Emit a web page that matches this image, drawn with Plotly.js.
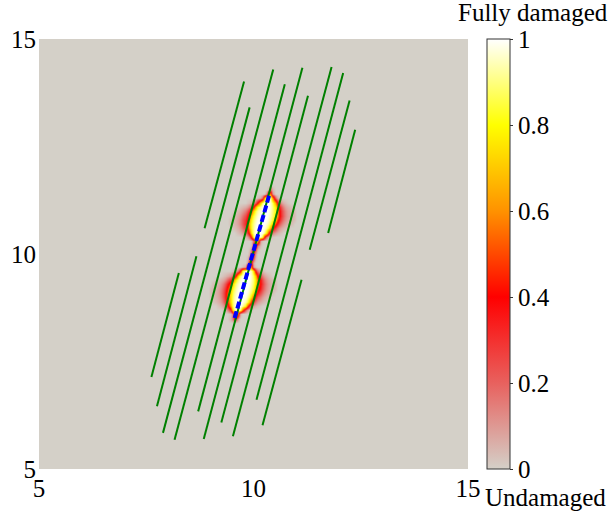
<!DOCTYPE html>
<html>
<head>
<meta charset="utf-8">
<script src="https://cdn.plot.ly/plotly-3.0.1.min.js"></script>
<style>
html, body { margin: 0; padding: 0; background: #ffffff; }
#chart { width: 612px; height: 513px; }
</style>
</head>
<body>
<div id="chart"></div>
<script>
// Natural fractures: start and end points of each green segment
const fracStartX = [8.86, 7.62, 7.75, 7.89, 8.16, 8.71, 8.84, 9.25, 9.52, 10.07, 11.31, 11.74, 10.21];
const fracStartY = [10.60, 7.14, 6.46, 5.84, 5.68, 6.34, 5.70, 6.08, 5.76, 6.61, 10.10, 10.49, 6.02];
const fracEndX   = [9.78, 8.26, 8.67, 9.91, 10.46, 10.73, 11.14, 11.27, 11.82, 12.09, 12.24, 12.37, 11.12];
const fracEndY   = [14.01, 9.56, 9.95, 13.41, 14.29, 13.95, 14.33, 13.68, 14.35, 14.21, 13.57, 12.89, 9.40];

// Hydraulic fracture path (blue dashed)
const hfX = [9.56, 10.38];
const hfY = [8.51, 11.42];

// Damage field grid
const damageX = [8.95, 9.00, 9.05, 9.10, 9.15, 9.20, 9.25, 9.30, 9.35, 9.40, 9.45, 9.50, 9.55, 9.60,
  9.65, 9.70, 9.75, 9.80, 9.85, 9.90, 9.95, 10.00, 10.05, 10.10, 10.15, 10.20, 10.25, 10.30, 10.35,
  10.40, 10.45, 10.50, 10.55, 10.60, 10.65, 10.70, 10.75, 10.80, 10.85, 10.90, 10.95, 11.00];
const damageY = [8.3, 8.4, 8.5, 8.6, 8.7, 8.8, 8.9, 9.0, 9.1, 9.2, 9.3, 9.4, 9.5, 9.6, 9.7, 9.8, 9.9,
  10.0, 10.1, 10.2, 10.3, 10.4, 10.5, 10.6, 10.7, 10.8, 10.9, 11.0, 11.1, 11.2, 11.3, 11.4, 11.5, 11.6, 11.7];
// first x of the non-zero part of each row (null = undamaged row)
const damageRowStart = [null, null, 9.45, 9.45, 9.30, 9.15, 9.05, 9.00, 9.00, 9.00, 9.05, 9.10, 9.25, 9.50,
  9.75, 9.85, 9.85, 9.90, 9.90, 9.95, 9.95, 9.75, 9.60, 9.50, 9.45, 9.45, 9.50, 9.55, 9.65, 9.85, 10.10,
  10.30, 10.35, null, null];
const damageRowValues = [
  [], [],
  [0.05, 0.15, 0.35, 0.2, 0.06],
  [0.02, 0.15, 0.7, 0.85, 0.35, 0.05],
  [0.03, 0.06, 0.135, 0.33, 0.75, 0.93, 0.97, 0.97, 0.88, 0.55, 0.22, 0.09, 0.04, 0.02],
  [0.02, 0.035, 0.06, 0.10, 0.19, 0.34, 0.63, 0.86, 0.95, 1, 1, 1, 0.925, 0.81, 0.51, 0.285, 0.153, 0.082, 0.05, 0.03, 0.015],
  [0.02, 0.033, 0.05, 0.07, 0.11, 0.186, 0.30, 0.46, 0.73, 0.873, 0.946, 0.995, 1, 1, 0.99, 0.933, 0.857, 0.69, 0.424, 0.27, 0.167, 0.10, 0.065, 0.045, 0.03, 0.02],
  [0.022, 0.035, 0.05, 0.066, 0.096, 0.15, 0.23, 0.35, 0.53, 0.75, 0.87, 0.94, 0.98, 1, 1, 1, 0.98, 0.93, 0.865, 0.735, 0.51, 0.34, 0.22, 0.145, 0.095, 0.065, 0.048, 0.035, 0.022],
  [0.03, 0.04, 0.056, 0.074, 0.107, 0.16, 0.24, 0.35, 0.51, 0.725, 0.855, 0.918, 0.966, 1, 1, 1, 1, 0.97, 0.92, 0.857, 0.73, 0.52, 0.356, 0.24, 0.165, 0.11, 0.075, 0.057, 0.041, 0.03],
  [0.03, 0.04, 0.054, 0.069, 0.10, 0.146, 0.215, 0.31, 0.44, 0.66, 0.818, 0.894, 0.947, 0.987, 1, 1, 1, 0.99, 0.953, 0.904, 0.836, 0.69, 0.47, 0.33, 0.228, 0.156, 0.104, 0.072, 0.054, 0.041, 0.031],
  [0.03, 0.04, 0.055, 0.072, 0.104, 0.157, 0.235, 0.34, 0.49, 0.71, 0.846, 0.913, 0.96, 0.998, 1, 1, 1, 0.98, 0.93, 0.87, 0.76, 0.565, 0.38, 0.265, 0.18, 0.12, 0.08, 0.06, 0.045, 0.033],
  [0.02, 0.03, 0.042, 0.059, 0.08, 0.126, 0.196, 0.30, 0.44, 0.69, 0.844, 0.917, 0.97, 1, 1, 1, 0.99, 0.943, 0.88, 0.77, 0.55, 0.36, 0.235, 0.15, 0.10, 0.066, 0.05, 0.035, 0.023],
  [0.014, 0.028, 0.043, 0.065, 0.102, 0.19, 0.30, 0.51, 0.78, 0.904, 0.97, 1, 1, 1, 0.944, 0.862, 0.69, 0.40, 0.24, 0.142, 0.083, 0.055, 0.036, 0.022],
  [0.022, 0.045, 0.09, 0.2, 0.43, 0.83, 0.955, 0.97, 0.97, 0.92, 0.725, 0.34, 0.15, 0.068, 0.037, 0.015],
  [0.03, 0.08, 0.6, 0.82, 0.45, 0.08, 0.02],
  [0.08, 0.38, 0.35, 0.06],
  [0.04, 0.2, 0.4, 0.22, 0.04],
  [0.06, 0.33, 0.38, 0.1],
  [0.03, 0.15, 0.42, 0.25, 0.04],
  [0.05, 0.3, 0.5, 0.15, 0.03],
  [0.03, 0.2, 0.8, 0.7, 0.08, 0.02],
  [0.02, 0.043, 0.09, 0.215, 0.51, 0.873, 0.96, 0.97, 0.963, 0.82, 0.40, 0.17, 0.068, 0.036, 0.012],
  [0.02, 0.036, 0.057, 0.09, 0.165, 0.29, 0.51, 0.80, 0.916, 1, 1, 1, 0.98, 0.903, 0.765, 0.455, 0.27, 0.148, 0.087, 0.054, 0.035, 0.02],
  [0.023, 0.035, 0.05, 0.07, 0.11, 0.175, 0.27, 0.42, 0.68, 0.844, 0.92, 0.975, 1, 1, 1, 0.973, 0.918, 0.84, 0.67, 0.415, 0.265, 0.17, 0.105, 0.07, 0.05, 0.034, 0.022],
  [0.025, 0.036, 0.05, 0.066, 0.095, 0.144, 0.215, 0.32, 0.46, 0.70, 0.843, 0.912, 0.962, 1, 1, 1, 1, 0.966, 0.916, 0.85, 0.71, 0.48, 0.33, 0.22, 0.148, 0.097, 0.068, 0.052, 0.036, 0.027],
  [0.028, 0.04, 0.052, 0.067, 0.095, 0.14, 0.21, 0.30, 0.43, 0.645, 0.81, 0.89, 0.945, 0.985, 1, 1, 1, 0.995, 0.954, 0.905, 0.837, 0.695, 0.47, 0.33, 0.228, 0.155, 0.103, 0.072, 0.056, 0.041, 0.03],
  [0.031, 0.042, 0.057, 0.076, 0.11, 0.165, 0.24, 0.35, 0.51, 0.72, 0.85, 0.914, 0.962, 1, 1, 1, 1, 0.976, 0.934, 0.875, 0.775, 0.59, 0.40, 0.28, 0.19, 0.128, 0.086, 0.064, 0.048, 0.035],
  [0.024, 0.036, 0.05, 0.066, 0.095, 0.147, 0.22, 0.34, 0.49, 0.725, 0.857, 0.924, 0.973, 1, 1, 1, 0.993, 0.95, 0.893, 0.803, 0.62, 0.40, 0.265, 0.183, 0.118, 0.078, 0.058, 0.041, 0.03],
  [0.017, 0.03, 0.043, 0.062, 0.093, 0.154, 0.25, 0.40, 0.645, 0.84, 0.92, 0.98, 1, 1, 1, 0.958, 0.894, 0.775, 0.53, 0.33, 0.21, 0.128, 0.078, 0.055, 0.036, 0.024],
  [0.02, 0.036, 0.062, 0.108, 0.21, 0.40, 0.72, 0.9, 0.977, 1, 1, 0.958, 0.865, 0.63, 0.33, 0.18, 0.093, 0.055, 0.033, 0.016],
  [0.028, 0.068, 0.215, 0.69, 0.93, 0.95, 0.92, 0.6, 0.19, 0.062, 0.024],
  [0.12, 0.6, 0.55, 0.1],
  [0.04, 0.2, 0.05],
  [], []
];

// Axis ticks and colour bar ticks
const axisTicks = [5, 10, 15];
const cbarTicks = [0, 0.2, 0.4, 0.6, 0.8, 1];
const cbarTickText = ['0', '0.2', '0.4', '0.6', '0.8', '1'];

const FONT = '"Liberation Serif", "Times New Roman", Times, serif';
const BG = '#d4d0c8';

// Expand the sparse rows into the full z matrix
const damageZ = damageY.map((y, r) => {
  const row = damageX.map(() => 0);
  const start = damageRowStart[r];
  if (start !== null) {
    const i0 = damageX.findIndex(v => Math.abs(v - start) < 1e-6);
    damageRowValues[r].forEach((v, k) => { row[i0 + k] = v; });
  }
  return row;
});

// Fracture segments joined into a single trace, separated by gaps
const fx = [], fy = [];
fracStartX.forEach((x0, i) => {
  fx.push(x0, fracEndX[i], null);
  fy.push(fracStartY[i], fracEndY[i], null);
});

const damageColors = [
  [0.0, BG],
  [0.2, '#e8615e'],
  [0.4, '#ff0000'],
  [0.6, '#ff9200'],
  [0.8, '#ffff00'],
  [1.0, '#ffffff']
];

const traces = [
  {
    type: 'heatmap',
    x: damageX, y: damageY, z: damageZ,
    zmin: 0, zmax: 1,
    zsmooth: 'best',
    colorscale: damageColors,
    hoverinfo: 'skip',
    colorbar: {
      x: 1.0443, xanchor: 'left', xpad: 0,
      y: 0.5, yanchor: 'middle', ypad: 0,
      len: 1, lenmode: 'fraction',
      thickness: 23, thicknessmode: 'pixels',
      outlinewidth: 1, outlinecolor: '#333333',
      ticks: 'outside', ticklen: 3, tickwidth: 1, tickcolor: '#333333',
      tickvals: cbarTicks, ticktext: cbarTickText,
      tickfont: { family: FONT, size: 25, color: '#000000' }
    }
  },
  {
    type: 'scatter', mode: 'lines',
    x: fx, y: fy,
    line: { color: '#008000', width: 2 },
    hoverinfo: 'skip', showlegend: false
  },
  {
    type: 'scatter', mode: 'lines',
    x: hfX, y: hfY,
    line: { color: '#0000ff', width: 4, dash: '7px,3px' },
    hoverinfo: 'skip', showlegend: false
  }
];

const axisCommon = {
  range: [5, 15],
  tickvals: axisTicks,
  ticktext: axisTicks.map(String),
  showgrid: false, zeroline: false, showline: false,
  ticks: '',
  fixedrange: true,
  automargin: false,
  tickfont: { family: FONT, size: 25, color: '#000000' }
};

const layout = {
  width: 612, height: 513,
  margin: { l: 39, r: 144, t: 39, b: 44, pad: 0 },
  paper_bgcolor: '#ffffff',
  plot_bgcolor: BG,
  showlegend: false,
  font: { family: FONT, size: 25, color: '#000000' },
  xaxis: Object.assign({}, axisCommon, { ticklabelstandoff: 2 }),
  yaxis: Object.assign({}, axisCommon, { ticklabelstandoff: 2 }),
  annotations: [
    {
      text: 'Fully damaged', xref: 'paper', yref: 'paper',
      x: 1.1515, y: 1.062, xanchor: 'center', yanchor: 'middle',
      showarrow: false, font: { family: FONT, size: 25, color: '#000000' }
    },
    {
      text: 'Undamaged', xref: 'paper', yref: 'paper',
      x: 1.181, y: -0.066, xanchor: 'center', yanchor: 'middle',
      showarrow: false, font: { family: FONT, size: 25, color: '#000000' }
    }
  ]
};

Plotly.newPlot('chart', traces, layout, { displayModeBar: false, staticPlot: true });
</script>
</body>
</html>
